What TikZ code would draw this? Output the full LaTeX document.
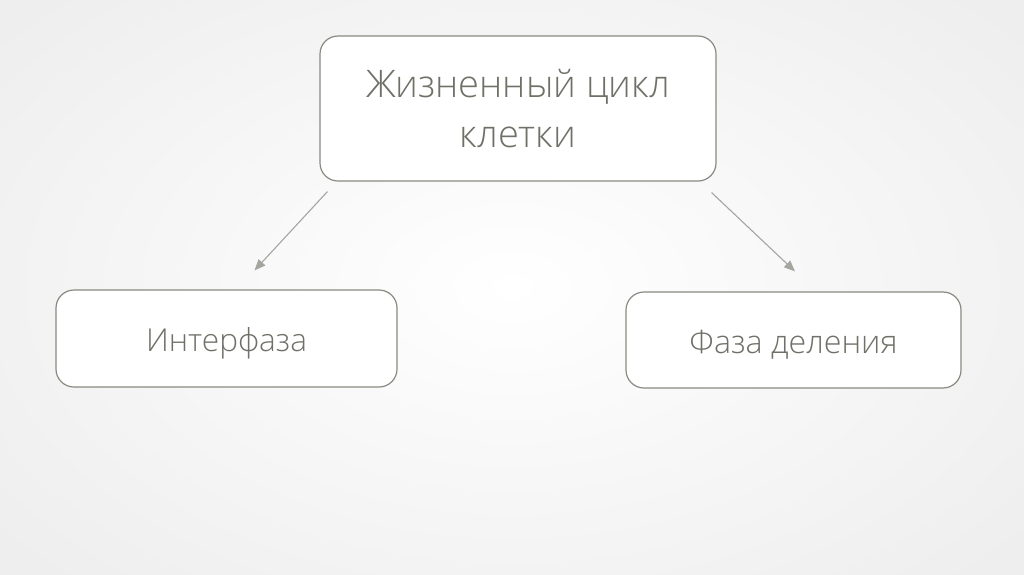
\documentclass[tikz,border=0pt]{standalone}
\usepackage{fontspec}
\setmainfont{Open Sans}[UprightFont=* Light]
\usetikzlibrary{arrows.meta}
\definecolor{txtgray}{RGB}{112,112,104}
\definecolor{boxgray}{RGB}{138,138,130}
\definecolor{arrgray}{RGB}{165,165,160}
\definecolor{bgedge}{RGB}{238,238,238}
\tikzset{
  box/.style={draw=boxgray, line width=1.2pt, fill=white, rounded corners=18pt,
    text=txtgray, align=center, inner sep=0pt},
  onetext/.style={text height=32pt, text depth=6pt},
  arr/.style={draw=arrgray, line width=1.1pt, -{Triangle[length=11pt,width=9pt]}}
}
\begin{document}
\begin{tikzpicture}[x=1pt,y=-1pt]
\useasboundingbox (0,0) rectangle (1024,574);
\shade[inner color=white, outer color=bgedge] (-150,-120) rectangle (1174,694);
\node[box, minimum width=396pt, minimum height=145pt, font=\fontsize{38}{50}\selectfont] (top) at (518,108.5) {Жизненный цикл\\клетки};
\node[box, onetext, minimum width=341pt, minimum height=97pt, font=\fontsize{31.6}{40}\selectfont] (left) at (226.5,338.5) {Интерфаза};
\node[box, onetext, minimum width=335pt, minimum height=96pt, font=\fontsize{32.2}{40}\selectfont] (right) at (793.5,340) {Фаза деления};
\draw[arr] ([shift={(8,10)}]top.south west) -- ([shift={(28,-19)}]left.north);
\draw[arr] ([shift={(-5,11)}]top.south east) -- ([shift={(1.5,-20)}]right.north);
\end{tikzpicture}
\end{document}
